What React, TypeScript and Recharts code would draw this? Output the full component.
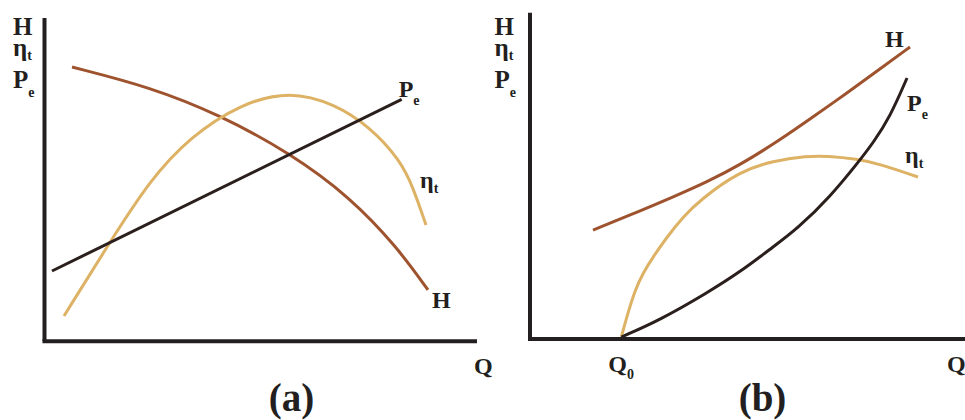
import React from 'react';
import { LineChart, Line, XAxis, YAxis, Label, LabelList } from 'recharts';

// ---------- Panel (a) ----------
const qA_H = [6.39, 24.51, 40.77, 57.03, 70.97, 81.88, 89.08];
const hA = [84.84, 78.66, 70.0, 58.24, 44.63, 29.17, 15.87];

const qA_Eta = [4.53, 15.21, 24.51, 33.8, 45.41, 57.03, 67.48, 75.61, 82.58, 85.6, 88.62];
const etaA = [7.83, 30.71, 49.89, 63.19, 73.4, 77.5, 73.4, 66.29, 56.08, 47.73, 35.97];

const qA_Pe = [1.74, 82.97];
const peA = [21.74, 74.85];

// ---------- Panel (b) ----------
const qB_H = [14.48, 25.29, 32.87, 40.69, 48.28, 57.47, 65.06, 72.87, 80.46, 87.36];
const hB = [33.4, 39.23, 43.52, 48.12, 53.33, 60.99, 68.04, 75.39, 82.75, 89.49];

const qB_Eta = [21.0, 22.23, 24.14, 25.98, 28.28, 31.49, 35.17, 39.08, 48.28, 55.86, 63.68, 68.28, 75.17, 80.46, 89.2];
const etaB = [0.61, 6.74, 15.02, 20.23, 25.13, 31.26, 37.39, 42.6, 51.49, 54.55, 56.08, 56.08, 55.16, 53.63, 49.65];

const qB_Pe = [21.0, 29.89, 40.69, 48.28, 55.86, 61.38, 68.97, 75.86, 78.85, 82.76, 86.67];
const peB = [0.61, 5.82, 14.1, 20.53, 28.19, 33.71, 43.52, 54.86, 60.07, 68.04, 79.99];

const q0 = 21.0;
const xTicksB = [q0];

const zip = (qs: number[], vs: number[]) => qs.map((q, i) => ({ q, v: vs[i] }));

const FONT = "'Liberation Serif', 'Times New Roman', Times, serif";
const INK = '#231F20';
const BROWN = '#9E532E';
const TAN = '#DDB265';
const DARK = '#2A1F1C';

function Sym(props: { x: number; y: number; main: string; sub?: string; subDy?: number; size?: number; subSize?: number }) {
  const { x, y, main, sub, subDy = 8, size = 24, subSize = 14 } = props;
  return (
    <text x={x} y={y} fontFamily={FONT} fontWeight={700} fontSize={size} fill={INK}>
      <tspan>{main}</tspan>
      {sub ? (
        <tspan fontSize={subSize} dy={subDy}>
          {sub}
        </tspan>
      ) : null}
    </text>
  );
}

const endLabel = (count: number, main: string, sub: string | undefined, dx: number, dy: number, subDy = 8) =>
  (p: any) => {
    if (p.index !== count - 1) return null;
    return <Sym key="end" x={Number(p.x) + dx} y={Number(p.y) + dy} main={main} sub={sub} subDy={subDy} />;
  };

// stacked y-axis title "H / ηt / Pe" as one multi-line text
const yStack = (dxLeft: number) => (p: any) => {
  const vb = p.viewBox || {};
  const x = vb.x + vb.width - dxLeft;
  return (
    <text fontFamily={FONT} fontWeight={700} fontSize={25} fill={INK}>
      <tspan x={x} y={35}>H</tspan>
      <tspan x={x} y={56}>η</tspan>
      <tspan fontSize={14} y={60}>t</tspan>
      <tspan x={x} y={88}>P</tspan>
      <tspan fontSize={14} y={97}>e</tspan>
    </text>
  );
};

const xLabel = (qDx: number, titleDx: number, title: string) => (p: any) => {
  const vb = p.viewBox || {};
  return (
    <g>
      <Sym x={vb.x + vb.width + qDx} y={vb.y + 33} main="Q" />
      <text
        x={vb.x + titleDx}
        y={411}
        textAnchor="middle"
        fontFamily={FONT}
        fontWeight={700}
        fontSize={39}
        fill={INK}
      >
        {title}
      </text>
    </g>
  );
};

const q0Tick = (p: any) => (
  <Sym x={p.x - 13} y={p.y + 33} main="Q" sub="0" subDy={7} />
);

const axisStyle = { stroke: INK, strokeWidth: 4 };
const xAxisStyle = { stroke: INK, strokeWidth: 4, strokeLinecap: 'square' as const };

export default function App() {
  const dataA_H = zip(qA_H, hA);
  const dataA_Eta = zip(qA_Eta, etaA);
  const dataA_Pe = zip(qA_Pe, peA);
  const dataB_H = zip(qB_H, hB);
  const dataB_Eta = zip(qB_Eta, etaB);
  const dataB_Pe = zip(qB_Pe, peB);

  return (
    <div style={{ position: 'absolute', left: 0, top: 0, width: 965, height: 420, background: '#fff', overflow: 'hidden' }}>
      <div style={{ position: 'absolute', left: 0, top: 0 }}>
        <LineChart width={500} height={420} margin={{ top: 18, right: 25, bottom: 77.7, left: 43.5 }}>
          <XAxis
            type="number"
            dataKey="q"
            domain={[0, 100]}
            height={1}
            tick={false}
            tickLine={false}
            axisLine={xAxisStyle}
          >
            <Label content={xLabel(-1, 247, '(a)')} />
          </XAxis>
          <YAxis type="number" domain={[0, 100]} width={1} tick={false} tickLine={false} axisLine={axisStyle}>
            <Label content={yStack(31.5)} />
          </YAxis>
          <Line data={dataA_H} dataKey="v" type="basis" stroke={BROWN} strokeWidth={3} dot={false} activeDot={false} isAnimationActive={false}>
            <LabelList content={endLabel(dataA_H.length, 'H', undefined, 4, 18)} />
          </Line>
          <Line data={dataA_Eta} dataKey="v" type="basis" stroke={TAN} strokeWidth={3} dot={false} activeDot={false} isAnimationActive={false}>
            <LabelList content={endLabel(dataA_Eta.length, 'η', 't', -6, -37, 5)} />
          </Line>
          <Line data={dataA_Pe} dataKey="v" type="linear" stroke={DARK} strokeWidth={3} dot={false} activeDot={false} isAnimationActive={false}>
            <LabelList content={endLabel(dataA_Pe.length, 'P', 'e', -3, -2, 8)} />
          </Line>
        </LineChart>
      </div>
      <div style={{ position: 'absolute', left: 485, top: 0 }}>
        <LineChart width={480} height={420} margin={{ top: 12.7, right: 0, bottom: 80, left: 44 }}>
          <XAxis
            type="number"
            dataKey="q"
            domain={[0, 100]}
            height={1}
            ticks={xTicksB}
            tick={q0Tick}
            tickLine={false}
            tickSize={0}
            tickMargin={0}
            axisLine={xAxisStyle}
          >
            <Label content={xLabel(-18, 232.5, '(b)')} />
          </XAxis>
          <YAxis type="number" domain={[0, 100]} width={1} tick={false} tickLine={false} axisLine={axisStyle}>
            <Label content={yStack(35.5)} />
          </YAxis>
          <Line data={dataB_H} dataKey="v" type="basis" stroke={BROWN} strokeWidth={3} dot={false} activeDot={false} isAnimationActive={false}>
            <LabelList content={endLabel(dataB_H.length, 'H', undefined, -25, 0)} />
          </Line>
          <Line data={dataB_Eta} dataKey="v" type="basis" stroke={TAN} strokeWidth={3} dot={false} activeDot={false} isAnimationActive={false}>
            <LabelList content={endLabel(dataB_Eta.length, 'η', 't', -13, -14, 5)} />
          </Line>
          <Line data={dataB_Pe} dataKey="v" type="basis" stroke={DARK} strokeWidth={3} dot={false} activeDot={false} isAnimationActive={false}>
            <LabelList content={endLabel(dataB_Pe.length, 'P', 'e', 0, 33, 8)} />
          </Line>
        </LineChart>
      </div>
    </div>
  );
}
